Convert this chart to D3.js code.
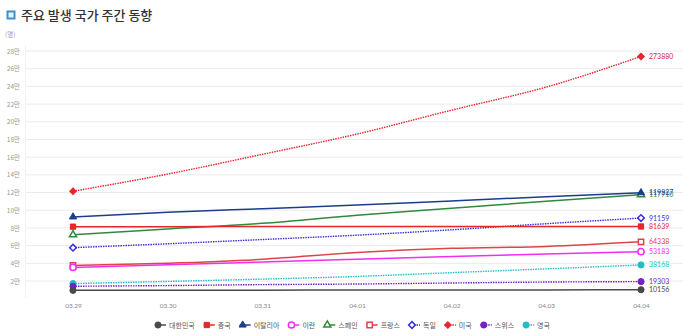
<!DOCTYPE html>
<html>
<head>
<meta charset="utf-8">
<script src="https://cdn.jsdelivr.net/npm/d3@7"></script>
<style>
  body { margin: 0; background: #fff; }
  svg { display: block; font-family: "Noto Sans CJK KR", "Noto Sans", sans-serif; }
</style>
</head>
<body>
<svg width="683" height="336"></svg>
<script>
var dates = ['03.29', '03.30', '03.31', '04.01', '04.02', '04.03', '04.04'];
var yTicks = [20000, 40000, 60000, 80000, 100000, 120000, 140000, 160000, 180000, 200000, 220000, 240000, 260000, 280000];

var korea   = [9478, 9583, 9661, 9786, 9887, 9976, 10156];
var china   = [81439, 81470, 81518, 81554, 81589, 81620, 81639];
var italy   = [92472, 97689, 101739, 105792, 110574, 115242, 119827];
var iran    = [35408, 38309, 41495, 44605, 47593, 50468, 53183];
var spain   = [72248, 78797, 85195, 94417, 102136, 110238, 117710];
var france  = [37575, 40174, 44550, 52128, 56989, 59105, 64338];
var germany = [57695, 62095, 66885, 71808, 77872, 84794, 91159];
var usa     = [121478, 140886, 163199, 186101, 213144, 239279, 273880];
var swiss   = [14076, 14829, 15922, 16605, 17768, 18827, 19303];
var uk      = [17089, 19522, 22141, 25150, 29474, 33718, 38168];

var series = [
  { name: '대한민국', values: korea,   color: '#4a4a4a', shape: 'circle',   filled: true,  dotted: false },
  { name: '중국',     values: china,   color: '#e5262a', shape: 'square',   filled: true,  dotted: false },
  { name: '이탈리아', values: italy,   color: '#1c3d8c', shape: 'triangle', filled: true,  dotted: false },
  { name: '이란',     values: iran,    color: '#f22ef2', shape: 'circle',   filled: false, dotted: false },
  { name: '스페인',   values: spain,   color: '#2f8a3c', shape: 'triangle', filled: false, dotted: false },
  { name: '프랑스',   values: france,  color: '#dc4448', shape: 'square',   filled: false, dotted: false },
  { name: '독일',     values: germany, color: '#3a2fe0', shape: 'diamond',  filled: false, dotted: true },
  { name: '미국',     values: usa,     color: '#e8262e', shape: 'diamond',  filled: true,  dotted: true },
  { name: '스위스',   values: swiss,   color: '#7422c6', shape: 'circle',   filled: true,  dotted: true },
  { name: '영국',     values: uk,      color: '#1fbfc6', shape: 'circle',   filled: true,  dotted: true }
];

var svg = d3.select('svg');

// title
svg.append('rect')
  .attr('x', 7.5).attr('y', 11.5).attr('width', 7).attr('height', 7)
  .attr('fill', '#eaf4fb').attr('stroke', '#3a92c9').attr('stroke-width', 2);
svg.append('text')
  .attr('x', 21).attr('y', 20)
  .attr('font-size', 13).attr('font-weight', 500).attr('fill', '#333')
  .text('주요 발생 국가 주간 동향');
svg.append('text')
  .attr('x', 5).attr('y', 37)
  .attr('font-size', 6.5).attr('fill', '#999')
  .text('(명)');

var x = d3.scalePoint().domain(dates).range([73, 641]);
var y = d3.scaleLinear().domain([0, 280000]).range([298.7, 51]);

// grid
var grid = svg.append('g');
grid.selectAll('line').data(yTicks).join('line')
  .attr('x1', 25).attr('x2', 683)
  .attr('y1', function (d) { return y(d); })
  .attr('y2', function (d) { return y(d); })
  .attr('stroke', '#ebebeb').attr('stroke-width', 1);
grid.append('line')
  .attr('x1', 25.5).attr('x2', 25.5).attr('y1', 45).attr('y2', 298)
  .attr('stroke', '#f2f2f2');

var yAxis = d3.axisLeft(y).tickValues(yTicks).tickSize(0).tickPadding(0)
  .tickFormat(function (d) { return (d / 10000) + '만'; });
svg.append('g').attr('transform', 'translate(20,0)').call(yAxis)
  .call(function (g) { g.select('.domain').remove(); })
  .selectAll('text').attr('font-size', 6.5).attr('fill', '#999')
  .attr('font-family', '"Noto Sans CJK KR", sans-serif');

var xAxis = d3.axisBottom(x).tickSize(0).tickPadding(0);
svg.append('g').attr('transform', 'translate(0,303)').call(xAxis)
  .call(function (g) { g.select('.domain').remove(); })
  .selectAll('text').attr('font-size', 6.5).attr('fill', '#888')
  .attr('font-family', 'Lato, sans-serif');

// diamond as a rotated square, d3's own diamond is too tall
var symbolType = {
  circle: d3.symbolCircle,
  square: d3.symbolSquare,
  triangle: d3.symbolTriangle,
  diamond: d3.symbolSquare
};
var symbolSize = { circle: 30, square: 28, triangle: 22, diamond: 22 };

function drawMarker(g, s, cx, cy) {
  g.append('path')
    .attr('d', d3.symbol().type(symbolType[s.shape]).size(symbolSize[s.shape])())
    .attr('transform', 'translate(' + cx + ',' + cy + ')' + (s.shape === 'diamond' ? ' rotate(45)' : ''))
    .attr('fill', s.filled ? s.color : '#fff')
    .attr('stroke', s.color)
    .attr('stroke-width', s.filled ? 1 : 1.5);
}

var line = d3.line()
  .x(function (d, i) { return x(dates[i]); })
  .y(function (d) { return y(d); })
  .curve(d3.curveMonotoneX);

var plot = svg.append('g');
series.slice().reverse().forEach(function (s) {
  plot.append('path')
    .attr('d', line(s.values))
    .attr('fill', 'none')
    .attr('stroke', s.color)
    .attr('stroke-width', s.dotted ? 1.4 : 1.5)
    .attr('stroke-dasharray', s.dotted ? '1.5,1' : null);
});
series.slice().reverse().forEach(function (s) {
  var last = s.values.length - 1;
  drawMarker(plot, s, x(dates[0]), y(s.values[0]));
  drawMarker(plot, s, x(dates[last]), y(s.values[last]));
  plot.append('text')
    .attr('x', x(dates[last]) + 8)
    .attr('y', y(s.values[last]) + 2.5)
    .attr('font-size', 7).attr('fill', s.color)
    .attr('font-family', 'Lato, sans-serif')
    .text(s.values[last]);
});

// legend
var legend = svg.append('g');
var lx = 0;
series.forEach(function (s) {
  var item = legend.append('g').attr('transform', 'translate(' + lx + ',0)');
  item.append('line')
    .attr('x1', 0).attr('x2', 11).attr('y1', 0).attr('y2', 0)
    .attr('stroke', s.color).attr('stroke-width', 1.5)
    .attr('stroke-dasharray', s.dotted ? '1.5,1' : null);
  drawMarker(item, s, 3, 0);
  var t = item.append('text')
    .attr('x', 14).attr('y', 2.5)
    .attr('font-size', 7).attr('fill', '#555')
    .text(s.name);
  lx += 14 + t.node().getComputedTextLength() + 9;
});
lx -= 9;
legend.attr('transform', 'translate(' + (155) + ',325)');
</script>
</body>
</html>
